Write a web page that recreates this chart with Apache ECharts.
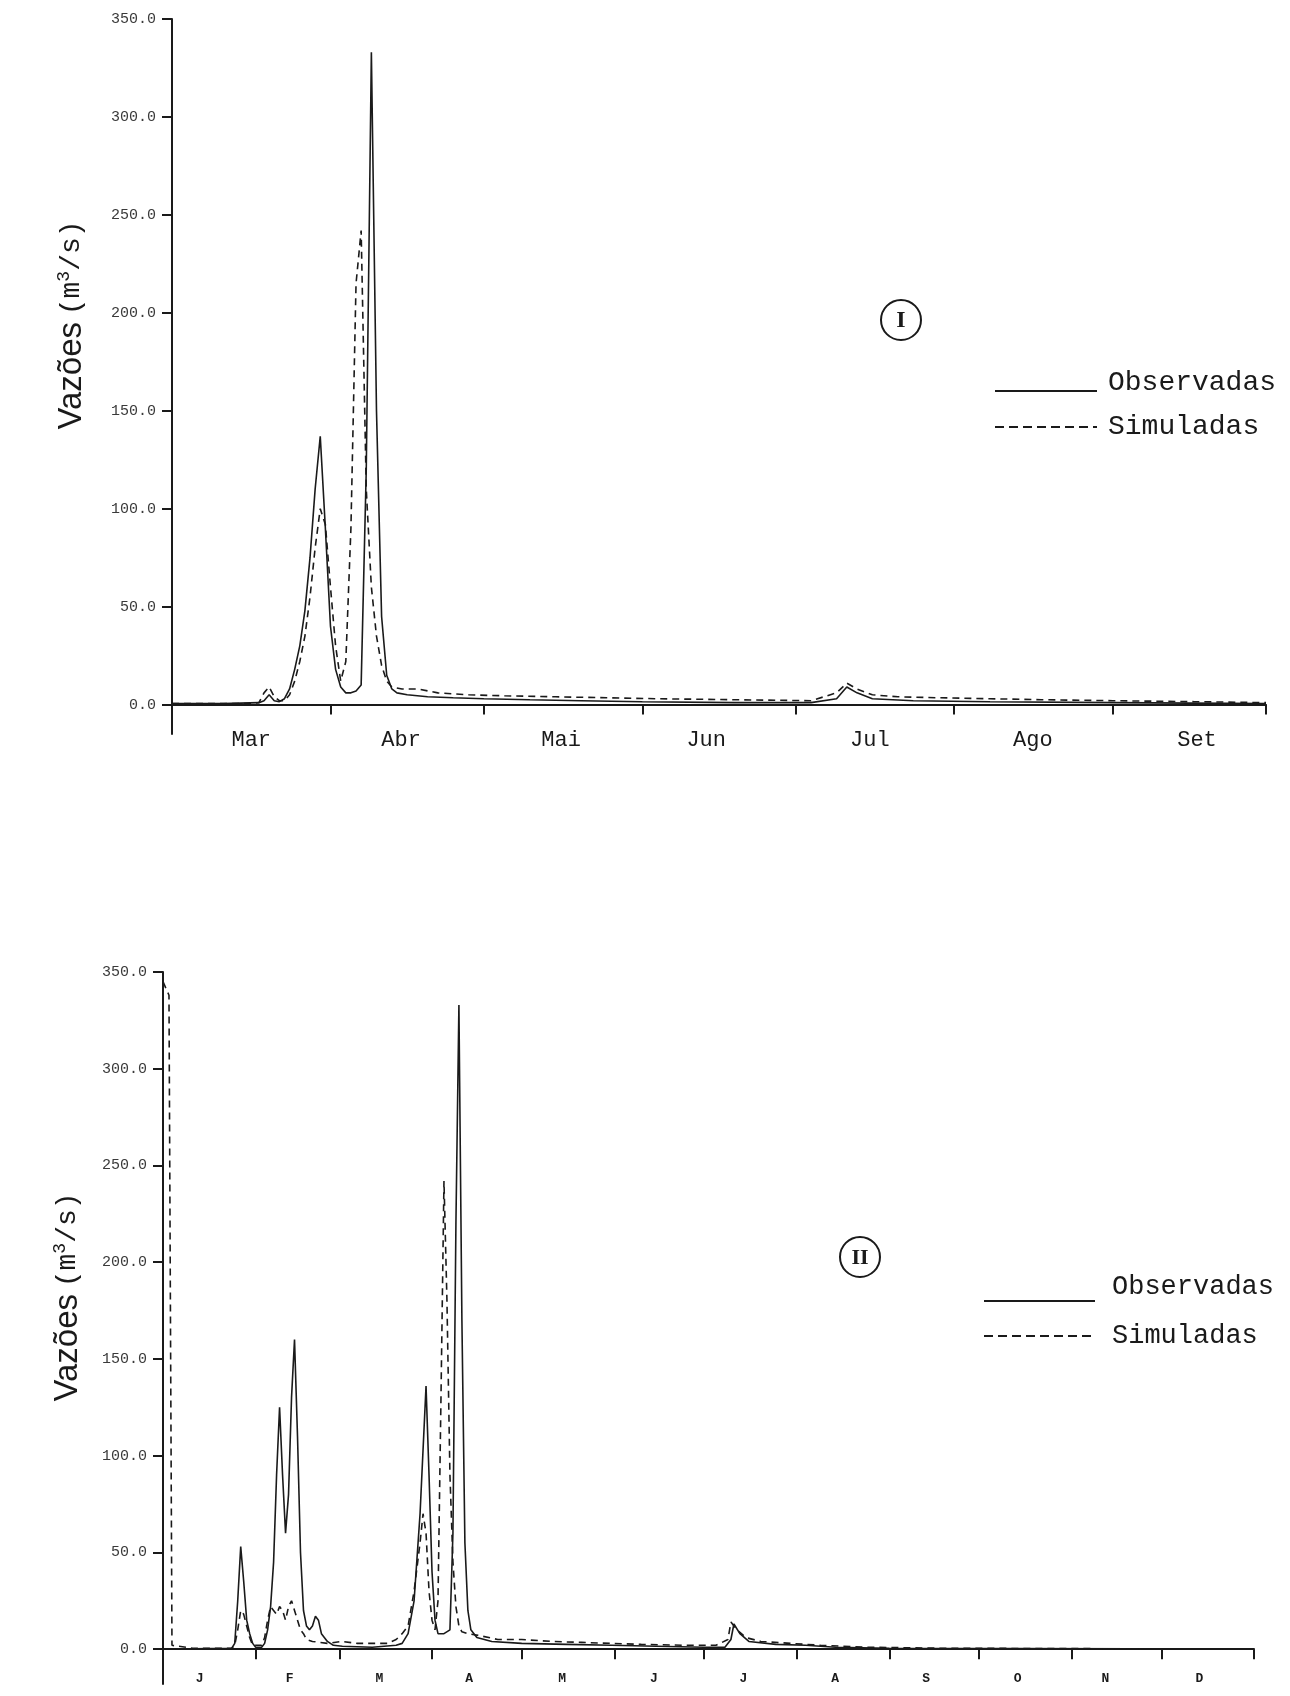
<!DOCTYPE html>
<html>
<head>
<meta charset="utf-8">
<script src="https://cdn.jsdelivr.net/npm/echarts@6/dist/echarts.min.js"></script>
<style>html,body{margin:0;padding:0;background:#fff;}#c{width:1290px;height:1696px;}</style>
</head>
<body>
<div id="c"></div>
<script>
// ---- Panel I (days counted from 1 March) ----
const months1 = ['Mar','Abr','Mai','Jun','Jul','Ago','Set'];
const monthStarts1 = [0,31,61,92,122,153,184,214];
const labelDays1 = [15.5,44.8,76.1,104.5,136.5,168.4,200.5];
const obs1 = [[0,0.5],[10,0.5],[17,1],[18,2],[19,5],[20,2],[21,1.5],[22,3],[23,8],[24,18],[25,30],[26,48],[27,75],[28,110],[29,137],[30,90],[31,40],[32,18],[33,9],[34,6],[35,6],[36,7],[37,10],[38,120],[39,333],[40,150],[41,45],[42,15],[43,8],[44,6],[46,5],[50,4],[55,3.5],[61,3],[70,2.5],[80,2],[92,1.5],[110,1],[125,1],[130,3],[132,9],[134,6],[137,3],[145,2],[160,1.5],[184,1],[214,0.5]];
const sim1 = [[0,0.5],[15,0.5],[17,1],[18,6],[19,9],[20,4],[21,2],[22,2],[23,5],[24,12],[25,22],[26,35],[27,55],[28,80],[29,100],[30,92],[31,60],[32,30],[33,12],[34,22],[35,90],[36,215],[37,242],[38,110],[39,60],[40,35],[41,20],[42,12],[43,9],[45,8],[48,8],[52,6],[58,5],[65,4.5],[75,4],[85,3.5],[95,3],[110,2.5],[125,2],[130,6],[132,11],[134,8],[137,5],[142,4],[150,3.5],[160,3],[170,2.5],[184,2],[200,1.5],[214,1]];

// ---- Panel II (days counted from 1 January) ----
const months2 = ['J','F','M','A','M','J','J','A','S','O','N','D'];
const monthStarts2 = [0,31,59,90,120,151,181,212,243,273,304,334,365];
const labelDays2 = [12.3,42.4,72.4,102.4,133.5,164.2,194.2,224.9,255.3,285.9,315.3,346.7];
const obs2 = [[0,0],[3,0],[23,0.5],[24,3],[25,25],[26,53],[27,35],[28,15],[29,8],[30,3],[31,1],[33,1],[34,3],[35,10],[36,22],[37,45],[38,90],[39,125],[40,90],[41,60],[42,80],[43,130],[44,160],[45,110],[46,50],[47,20],[48,12],[49,10],[50,12],[51,17],[52,15],[53,8],[55,4],[57,2],[60,1.5],[70,1],[78,2],[80,3],[82,8],[84,25],[86,70],[88,136],[89,90],[90,40],[91,15],[92,8],[94,8],[96,10],[97,60],[98,220],[99,333],[100,170],[101,55],[102,20],[103,10],[105,6],[110,4],[120,3],[135,2.5],[150,2],[165,1.5],[181,1],[188,1],[190,5],[191,13],[193,8],[196,4],[205,2.5],[215,2],[225,1],[243,0.5],[365,0]];
const sim2 = [[0,345],[2,338],[3,2],[10,0.5],[23,0.5],[24,2],[25,10],[26,20],[27,18],[28,12],[29,6],[30,2],[33,2],[34,6],[35,15],[36,22],[37,20],[38,18],[39,22],[40,20],[41,15],[42,22],[43,25],[44,20],[45,15],[46,10],[47,8],[48,5],[50,4],[55,3],[60,4],[65,3],[70,3],[75,3],[78,5],[80,8],[82,12],[84,30],[86,55],[87,70],[88,60],[89,30],[90,15],[91,10],[92,25],[93,130],[94,242],[95,180],[96,90],[97,45],[98,22],[99,12],[100,9],[102,8],[106,7],[112,5],[120,5],[130,4],[140,3.5],[150,3],[160,2.5],[175,2],[185,2],[189,5],[190,14],[192,10],[195,6],[200,4],[210,3],[220,2],[235,1],[260,0.5],[365,0]];

const yTicks = [0,50,100,150,200,250,300,350];
const legendNames = ['Observadas','Simuladas'];
const yNameRich = '{a|Vazões}  {b|(m}{s|3}{b|/s)}';

const ink = '#1a1a1a';
const mono = '"Liberation Mono","DejaVu Sans Mono",monospace';

function xAxisDef(gi, starts, md, names, maxv, font){
  return {
    type:'value', gridIndex:gi, min:0, max:maxv,
    axisLine:{show:true,onZero:true,lineStyle:{color:ink,width:2}},
    splitLine:{show:false},
    axisTick:{show:true,customValues:starts,length:10,inside:false,lineStyle:{color:ink,width:2}},
    axisLabel:{show:true,customValues:md,margin:font.margin,color:ink,fontFamily:mono,fontSize:font.size,fontWeight:font.weight,
      formatter:function(v){const i=md.indexOf(v);return i>=0?names[i]:'';}}
  };
}
function yAxisDef(gi, minv){
  return {
    type:'value', gridIndex:gi, min:minv, max:350,
    axisLine:{show:true,lineStyle:{color:ink,width:2}},
    splitLine:{show:false},
    axisTick:{show:true,customValues:yTicks,length:10,lineStyle:{color:ink,width:2}},
    axisLabel:{customValues:yTicks,margin:16,color:'#3a3a3a',fontFamily:mono,fontSize:15,formatter:function(v){return v.toFixed(1);}}
  };
}
function lineSeries(name, data, xi, yi, dashed){
  return {name:name,type:'line',xAxisIndex:xi,yAxisIndex:yi,data:data,symbol:'none',smooth:false,
    lineStyle:{color:ink,width:1.6,type:dashed?[7,5]:'solid'},itemStyle:{color:ink},animation:false,z:3};
}
function nameText(x,y){
  return {type:'text',x:x,y:y,rotation:Math.PI/2,style:{text:yNameRich,fill:ink,align:'center',verticalAlign:'middle',
    rich:{a:{font:'33px "Liberation Sans", Arial, sans-serif',fill:ink},
          b:{font:'28px "Liberation Mono", monospace',fill:ink},
          s:{font:'18px "Liberation Mono", monospace',fill:ink,padding:[0,0,15,0]}}}};
}
function legendBlock(x0,x1,xt,y1,yt1,y2,fs){
  return [
    {type:'line',shape:{x1:x0,y1:y1,x2:x1,y2:y1},style:{stroke:ink,lineWidth:2}},
    {type:'text',x:xt,y:yt1,style:{text:legendNames[0],fill:ink,font:fs+'px '+mono,textAlign:'left',textVerticalAlign:'middle'}},
    {type:'line',shape:{x1:x0,y1:y2,x2:x1,y2:y2},style:{stroke:ink,lineWidth:2,lineDash:[9,5]}},
    {type:'text',x:xt,y:y2,style:{text:legendNames[1],fill:ink,font:fs+'px '+mono,textAlign:'left',textVerticalAlign:'middle'}}
  ];
}

const chart = echarts.init(document.getElementById('c'), null, {renderer:'canvas'});
chart.setOption({
  backgroundColor:'#fff',
  animation:false,
  grid:[
    {left:172,right:24,top:19,bottom:962,outerBoundsMode:'none'},
    {left:163,right:36,top:972,bottom:12,outerBoundsMode:'none'}
  ],
  xAxis:[
    xAxisDef(0, monthStarts1, labelDays1, months1, 214, {size:22,weight:'normal',margin:-5}),
    xAxisDef(1, monthStarts2, labelDays2, months2, 365, {size:13,weight:'bold',margin:-12})
  ],
  yAxis:[yAxisDef(0,-15), yAxisDef(1,-18)],
  series:[
    lineSeries(legendNames[0], obs1, 0, 0, false),
    lineSeries(legendNames[1], sim1, 0, 0, true),
    lineSeries(legendNames[0], obs2, 1, 1, false),
    lineSeries(legendNames[1], sim2, 1, 1, true)
  ],
  graphic:[
    nameText(72,325),
    nameText(68,1297)
  ].concat(
    legendBlock(995,1097,1108,391,383,427,28),
    legendBlock(984,1095,1112,1301,1287,1336,27),
    [
    {type:'circle',shape:{cx:901,cy:320,r:20},style:{fill:'none',stroke:ink,lineWidth:2}},
    {type:'text',x:901,y:321,style:{text:'I',fill:ink,font:'bold 24px "Liberation Serif", serif',textAlign:'center',textVerticalAlign:'middle'}},
    {type:'circle',shape:{cx:860,cy:1257,r:20},style:{fill:'none',stroke:ink,lineWidth:2}},
    {type:'text',x:860,y:1258,style:{text:'II',fill:ink,font:'bold 22px "Liberation Serif", serif',textAlign:'center',textVerticalAlign:'middle'}}
    ])
});
</script>
</body>
</html>
